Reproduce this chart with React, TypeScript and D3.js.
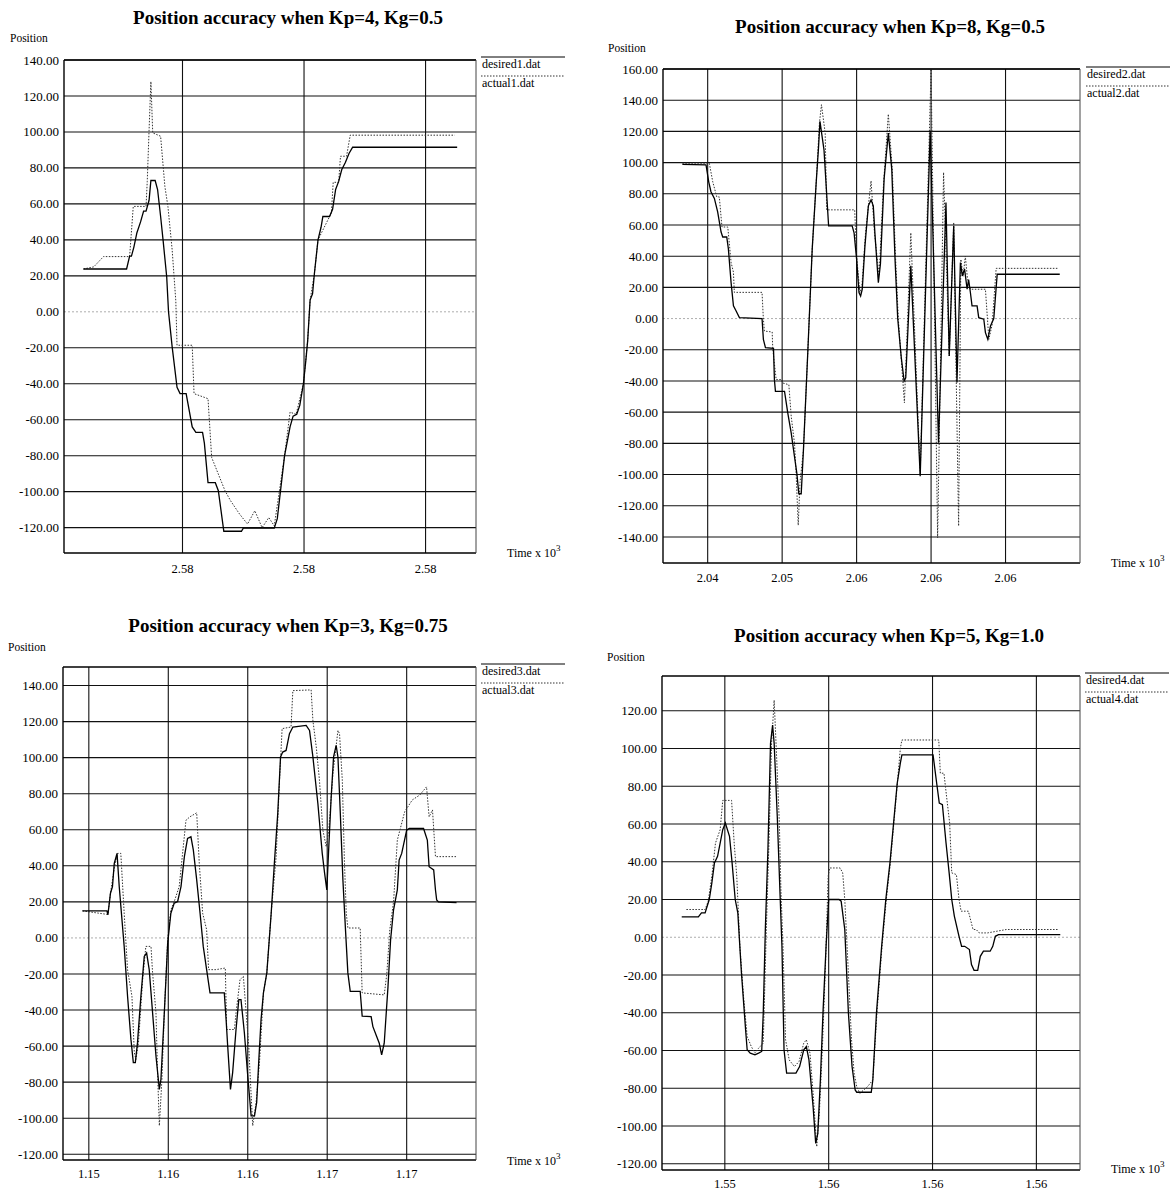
import * as d3 from "d3";

type Pt = [number, number];

// time (s), position
const desired1: Pt[] = [
  [2576.37, 23.8], [2577.08, 23.8], [2577.13, 31], [2577.16, 31], [2577.2, 36], [2577.25, 44], [2577.31, 50],
  [2577.36, 56], [2577.4, 56], [2577.45, 62], [2577.48, 73], [2577.55, 73], [2577.59, 68], [2577.64, 53],
  [2577.68, 40], [2577.74, 19.5], [2577.77, 0], [2577.83, -19.5], [2577.91, -42], [2577.96, -45.5],
  [2578.06, -45.5], [2578.09, -51], [2578.16, -64], [2578.22, -67], [2578.33, -67], [2578.36, -73],
  [2578.42, -95], [2578.54, -95], [2578.59, -99.5], [2578.68, -122], [2578.97, -122], [2579.0, -120.3],
  [2579.51, -120.3], [2579.56, -115], [2579.68, -80], [2579.77, -64], [2579.82, -58], [2579.88, -57],
  [2579.93, -52], [2579.99, -40], [2580.03, -27], [2580.06, -16], [2580.1, 6.5], [2580.14, 10], [2580.17, 21],
  [2580.23, 40], [2580.28, 47], [2580.31, 53], [2580.42, 53], [2580.47, 57], [2580.52, 68], [2580.57, 72.5],
  [2580.62, 79], [2580.68, 83], [2580.74, 88], [2580.8, 91.5], [2582.52, 91.5],
];
const actual1: Pt[] = [
  [2576.37, 23.8], [2576.54, 25], [2576.7, 30.7], [2577.13, 30.7], [2577.19, 58.6], [2577.4, 58.6],
  [2577.42, 72.5], [2577.45, 101], [2577.48, 128], [2577.51, 99.5], [2577.64, 97.6], [2577.71, 69.7],
  [2577.76, 58.6], [2577.83, 34.4], [2577.89, 6], [2577.91, -18.6], [2578.16, -18.6], [2578.19, -45.5],
  [2578.42, -48.3], [2578.48, -81], [2578.7, -99.5], [2578.79, -105], [2578.94, -112.5], [2579.07, -118],
  [2579.19, -110.6], [2579.31, -120], [2579.42, -114.4], [2579.51, -119], [2579.68, -80], [2579.77, -55.8],
  [2579.87, -57], [2579.99, -40], [2580.06, -16], [2580.1, 6.5], [2580.17, 21], [2580.23, 40], [2580.45, 55],
  [2580.48, 72], [2580.57, 72], [2580.6, 86.5], [2580.7, 86.5], [2580.76, 98.2], [2582.48, 98.2],
];

const desired2: Pt[] = [
  [2043.3, 98.9], [2044.89, 98.5], [2045.07, 87.7], [2045.22, 81.3], [2045.45, 77], [2045.67, 68.4],
  [2045.9, 55.5], [2046.01, 52.3], [2046.28, 52.3], [2046.39, 44.7], [2046.57, 23.2], [2046.73, 8.2],
  [2046.91, 4.9], [2047.13, 0.6], [2048.65, 0], [2048.74, -13.3], [2048.88, -18.7], [2049.42, -19.1],
  [2049.48, -39.1], [2049.55, -46.7], [2050.16, -46.7], [2050.38, -60.6], [2050.61, -73.5], [2050.83, -88.6],
  [2050.99, -99.4], [2051.12, -112.3], [2051.28, -112.3], [2051.43, -84.3], [2051.73, -19.8], [2052.02, 44.7],
  [2052.29, 87.7], [2052.44, 109.2], [2052.54, 126.4], [2052.81, 108.2], [2053.12, 59.4], [2054.7, 59.4],
  [2054.83, 55], [2055.0, 38], [2055.16, 16.7], [2055.27, 14.5], [2055.38, 18.8], [2055.56, 46.6],
  [2055.79, 72.3], [2055.97, 76.1], [2056.12, 72.3], [2056.24, 53], [2056.46, 23], [2056.6, 35], [2056.85, 90],
  [2057.13, 118.9], [2057.36, 95.8], [2057.58, 38], [2057.76, 0], [2058.0, -25], [2058.19, -40], [2058.3, -38],
  [2058.64, 33.8], [2059.27, -101], [2059.94, 120.4], [2060.5, -79.6], [2061.0, 74.4], [2061.22, -24],
  [2061.52, 59.5], [2061.74, -41], [2061.97, 35.9], [2062.1, 27.4], [2062.25, 31.7], [2062.42, 18.8],
  [2062.52, 25], [2062.64, 16.7], [2062.75, 8.1], [2063.09, 8.1], [2063.2, 0.6], [2063.54, -0.4],
  [2063.65, -9], [2063.81, -13.3], [2063.99, -4.7], [2064.21, 0], [2064.44, 28.4], [2068.64, 28.4],
];
const actual2: Pt[] = [
  [2043.3, 99.6], [2045.11, 99.6], [2045.34, 87.7], [2045.61, 78], [2045.78, 78], [2045.96, 58.7],
  [2046.35, 58.7], [2046.57, 36.1], [2046.73, 29.7], [2046.79, 16.8], [2048.65, 16.8], [2048.74, -0.4],
  [2048.81, -8], [2049.33, -8.6], [2049.37, -19.4], [2049.6, -39.1], [2049.93, -39.1], [2050.04, -41.3],
  [2050.45, -42.4], [2050.61, -62.8], [2050.83, -80], [2050.94, -99.4], [2051.08, -132.5], [2051.2, -105],
  [2051.43, -84.3], [2051.73, -19.8], [2052.02, 44.7], [2052.29, 87.7], [2052.5, 125], [2052.64, 137.1],
  [2052.89, 119], [2052.99, 69.7], [2054.87, 69.7], [2055.0, 40], [2055.22, 16.7], [2055.35, 20],
  [2055.6, 55], [2055.97, 88.3], [2056.2, 55], [2056.51, 27.4], [2056.8, 85], [2057.13, 131.1], [2057.4, 95],
  [2057.62, 38], [2057.8, 0], [2058.21, -54], [2058.64, 55], [2059.27, -100], [2060.0, 160], [2060.44, -140.6],
  [2060.84, 93.7], [2061.22, -24], [2061.52, 61.6], [2061.85, -133], [2062.0, 38], [2062.15, 27],
  [2062.3, 40], [2062.45, 25], [2062.64, 18.8], [2063.65, 18.8], [2063.88, -13.3], [2064.1, -4],
  [2064.37, 32.2], [2068.52, 32.2],
];

const desired3: Pt[] = [
  [1153.68, 15], [1154.91, 15], [1154.96, 12.8], [1155.09, 24.8], [1155.19, 28.4], [1155.28, 41.3],
  [1155.42, 46.9], [1155.53, 28.5], [1155.78, -4.7], [1155.95, -32.4], [1156.12, -56.3], [1156.24, -69.2],
  [1156.34, -69.2], [1156.45, -58.1], [1156.62, -32.4], [1156.79, -10.3], [1156.91, -8.4], [1157.04, -17.6],
  [1157.21, -41.6], [1157.38, -65.5], [1157.55, -84], [1157.63, -78.4], [1157.8, -41.6], [1157.97, -2.8],
  [1158.13, 13.7], [1158.3, 19.3], [1158.47, 20.2], [1158.64, 28.5], [1158.81, 45.1], [1158.97, 55.2],
  [1159.14, 56.1], [1159.26, 48.8], [1159.43, 32.2], [1159.6, 13.7], [1159.76, -4.7], [1159.93, -17.6],
  [1160.1, -30.5], [1160.82, -30.5], [1160.91, -45.3], [1160.99, -60], [1161.13, -84], [1161.24, -74.7],
  [1161.41, -50.8], [1161.55, -34.2], [1161.66, -34.2], [1161.83, -52.6], [1162.0, -76.6], [1162.17, -98.7],
  [1162.34, -98.7], [1162.45, -91.3], [1162.55, -69.2], [1162.67, -45.3], [1162.79, -30.5], [1162.96, -19.4],
  [1163.18, 13.7], [1163.34, 41.4], [1163.51, 69], [1163.65, 100.4], [1163.76, 103.1], [1163.93, 104],
  [1164.1, 113.3], [1164.27, 117], [1164.94, 117.9], [1165.11, 115.1], [1165.28, 100.4], [1165.53, 74.6],
  [1165.75, 46.9], [1165.87, 35.8], [1165.98, 26.6], [1166.08, 50.6], [1166.2, 78.2], [1166.32, 100.4],
  [1166.45, 106.8], [1166.54, 100.4], [1166.66, 69], [1166.79, 32.2], [1166.92, 4.6], [1167.04, -19.4],
  [1167.16, -29.6], [1167.66, -29.6], [1167.76, -43.4], [1168.21, -43.6], [1168.3, -49.2], [1168.49, -54.7],
  [1168.62, -58.4], [1168.74, -64.9], [1168.87, -58.4], [1169.06, -27], [1169.19, -1.1], [1169.34, 15.6],
  [1169.53, 26.7], [1169.62, 43.2], [1169.75, 46.9], [1170.0, 59.8], [1170.13, 60.7], [1170.85, 60.7],
  [1171.04, 54.3], [1171.13, 39.5], [1171.36, 37.7], [1171.45, 26.6], [1171.51, 21.1], [1171.6, 20],
  [1172.51, 19.6],
];
const actual3: Pt[] = [
  [1153.68, 15], [1154.96, 13], [1155.09, 24.8], [1155.3, 40], [1155.45, 46.9], [1155.61, 46.9],
  [1155.78, 13.7], [1155.95, -17.6], [1156.17, -32.4], [1156.29, -63.7], [1156.37, -67.4], [1156.5, -58.1],
  [1156.71, -23.2], [1156.87, -4.7], [1157.13, -4.7], [1157.21, -19.4], [1157.38, -41.6], [1157.46, -74.7],
  [1157.55, -104.2], [1157.68, -78.4], [1157.8, -41.6], [1157.97, -0.9], [1158.13, 15.6], [1158.3, 20.2],
  [1158.55, 28.5], [1158.72, 46.9], [1158.89, 65.3], [1159.09, 67.2], [1159.43, 69.4], [1159.56, 41.4],
  [1159.73, 13.7], [1159.93, 4.6], [1160.03, -17.6], [1160.4, -17.6], [1160.87, -16.7], [1160.94, -50.8],
  [1161.33, -50.8], [1161.41, -41.6], [1161.61, -23.2], [1161.78, -21.3], [1161.92, -41.6], [1162.05, -60],
  [1162.13, -78.4], [1162.25, -104.2], [1162.42, -91.3], [1162.59, -69.2], [1162.79, -30.5], [1162.96, -19.4],
  [1163.18, 13.7], [1163.43, 45.1], [1163.6, 87.5], [1163.73, 116.1], [1164.18, 117], [1164.27, 137.2],
  [1165.19, 137.6], [1165.28, 120.6], [1165.45, 105.9], [1165.61, 87.5], [1165.78, 59.9], [1165.95, 50.6],
  [1166.08, 59.9], [1166.29, 91.3], [1166.54, 115.1], [1166.62, 113.3], [1166.76, 87.5], [1166.87, 41.4],
  [1166.96, 13.7], [1167.04, 5.5], [1167.66, 5.5], [1167.76, -30.5], [1168.87, -31.6], [1169.0, -20],
  [1169.15, 4.5], [1169.34, 20], [1169.53, 54.3], [1169.9, 70], [1170.28, 76.5], [1170.66, 79.3],
  [1171.0, 83.8], [1171.13, 67.2], [1171.3, 71], [1171.45, 45.1], [1172.51, 45.1],
];

const desired4: Pt[] = [
  [1553.17, 10.8], [1553.49, 10.8], [1553.55, 12.9], [1553.62, 12.9], [1553.7, 20], [1553.75, 28.8],
  [1553.8, 39.4], [1553.86, 42.9], [1553.91, 49.9], [1553.96, 57], [1554.01, 60.5], [1554.09, 53.5],
  [1554.14, 39.4], [1554.2, 20], [1554.25, 12.9], [1554.32, -18.9], [1554.4, -49], [1554.43, -59.6],
  [1554.49, -61.4], [1554.58, -62.3], [1554.65, -61.4], [1554.71, -60.5], [1554.74, -40.2], [1554.78, 4.1],
  [1554.83, 46.4], [1554.88, 102.7], [1554.92, 112.4], [1554.95, 102.7], [1555.01, 64], [1555.06, 25.3],
  [1555.1, -4.8], [1555.14, -59.6], [1555.19, -72], [1555.37, -72], [1555.44, -68.5], [1555.52, -59.6],
  [1555.57, -57.9], [1555.62, -65], [1555.7, -89.7], [1555.75, -109.2], [1555.79, -103.9], [1555.84, -75.6],
  [1555.89, -40.2], [1555.95, -4.8], [1556.0, 20], [1556.2, 20], [1556.24, 19.1], [1556.31, 4.1],
  [1556.38, -40.2], [1556.45, -68.5], [1556.51, -80.9], [1556.54, -82.1], [1556.82, -82.1], [1556.85, -75.6],
  [1556.92, -40.2], [1557.02, -4.8], [1557.1, 20], [1557.18, 39.4], [1557.25, 60.5], [1557.32, 81.6],
  [1557.38, 92.2], [1557.41, 96.6], [1558.01, 96.6], [1558.08, 81.6], [1558.13, 71.1], [1558.19, 70.2],
  [1558.26, 49.9], [1558.32, 34.1], [1558.37, 20], [1558.42, 11.2], [1558.51, 0.5], [1558.56, -4.8],
  [1558.62, -4.8], [1558.71, -6.5], [1558.75, -14.5], [1558.8, -17.5], [1558.87, -17.5], [1558.92, -10.1],
  [1558.98, -7.4], [1559.11, -7.4], [1559.16, -4.8], [1559.21, 0.5], [1559.27, 1.4], [1560.46, 1.4],
];
const actual4: Pt[] = [
  [1553.26, 14.7], [1553.62, 14.7], [1553.68, 19.1], [1553.75, 32.3], [1553.82, 49.9], [1553.91, 57],
  [1553.96, 72.5], [1554.13, 72.5], [1554.18, 49.9], [1554.23, 32.3], [1554.29, -4.8], [1554.36, -31.3],
  [1554.43, -52.6], [1554.51, -57.9], [1554.58, -61.4], [1554.65, -58.8], [1554.74, -56.1], [1554.8, 5],
  [1554.85, 49.9], [1554.9, 102.7], [1554.95, 125.6], [1555.0, 93.9], [1555.05, 60.5], [1555.08, 25.3],
  [1555.12, -4.8], [1555.17, -54.3], [1555.24, -65], [1555.34, -68.5], [1555.43, -65.8], [1555.52, -56.1],
  [1555.57, -54.3], [1555.64, -61.4], [1555.7, -82.7], [1555.77, -111], [1555.82, -93.3], [1555.88, -57.9],
  [1555.94, -13.6], [1555.99, 32.3], [1556.02, 36.7], [1556.22, 36.7], [1556.27, 34.1], [1556.31, 20],
  [1556.37, -13.6], [1556.44, -54.3], [1556.49, -72], [1556.54, -79.1], [1556.6, -82.7], [1556.75, -79.1],
  [1556.85, -75.6], [1556.93, -40], [1557.03, -4], [1557.11, 20], [1557.19, 40], [1557.26, 62], [1557.33, 84],
  [1557.38, 100], [1557.41, 104.5], [1558.12, 104.5], [1558.15, 86.9], [1558.22, 86.9], [1558.27, 74.6],
  [1558.33, 60.5], [1558.37, 34.1], [1558.46, 33.2], [1558.51, 20], [1558.55, 13.8], [1558.69, 13.8],
  [1558.78, 4.1], [1558.84, 4.1], [1558.9, 2.3], [1559.06, 2.3], [1559.42, 4.1], [1560.43, 4.1],
];

// axis ticks
const xTicks1 = [2578, 2580, 2582];
const xLabels1 = ["2.58", "2.58", "2.58"];
const xTicks2 = [2045, 2050, 2055, 2060, 2065];
const xLabels2 = ["2.04", "2.05", "2.06", "2.06", "2.06"];
const xTicks3 = [1154, 1158, 1162, 1166, 1170];
const xLabels3 = ["1.15", "1.16", "1.16", "1.17", "1.17"];
const xTicks4 = [1554, 1556, 1558, 1560];
const xLabels4 = ["1.55", "1.56", "1.56", "1.56"];

const yTicks1 = [140, 120, 100, 80, 60, 40, 20, 0, -20, -40, -60, -80, -100, -120];
const yTicks2 = [160, 140, 120, 100, 80, 60, 40, 20, 0, -20, -40, -60, -80, -100, -120, -140];
const yTicks3 = [140, 120, 100, 80, 60, 40, 20, 0, -20, -40, -60, -80, -100, -120];
const yTicks4 = [120, 100, 80, 60, 40, 20, 0, -20, -40, -60, -80, -100, -120];

const titles = [
  "Position accuracy when Kp=4, Kg=0.5",
  "Position accuracy when Kp=8, Kg=0.5",
  "Position accuracy when Kp=3, Kg=0.75",
  "Position accuracy when Kp=5, Kg=1.0",
];
const legendNames = [
  ["desired1.dat", "actual1.dat"],
  ["desired2.dat", "actual2.dat"],
  ["desired3.dat", "actual3.dat"],
  ["desired4.dat", "actual4.dat"],
];

const FONT = "'Liberation Serif', 'Times New Roman', serif";

const panels = [
  {
    id: 1, desired: desired1, actual: actual1, xTicks: xTicks1, xLabels: xLabels1, yTicks: yTicks1,
    xDomain: [2576.05, 2582.83], yDomain: [-134.1, 140],
    left: 64, right: 476, top: 60, bottom: 553, titleX: 288, titleY: 24, posX: 10, posY: 42,
    legX: 481, legY: 57, xLabY: 573, timeY: 557,
  },
  {
    id: 2, desired: desired2, actual: actual2, xTicks: xTicks2, xLabels: xLabels2, yTicks: yTicks2,
    xDomain: [2042, 2070], yDomain: [-156.7, 160],
    left: 663, right: 1080, top: 69, bottom: 563, titleX: 890, titleY: 33, posX: 608, posY: 52,
    legX: 1086, legY: 67, xLabY: 582, timeY: 567,
  },
  {
    id: 3, desired: desired3, actual: actual3, xTicks: xTicks3, xLabels: xLabels3, yTicks: yTicks3,
    xDomain: [1152.7, 1173.49], yDomain: [-123.2, 150.3],
    left: 63, right: 476, top: 667, bottom: 1160, titleX: 288, titleY: 632, posX: 8, posY: 651,
    legX: 481, legY: 664, xLabY: 1178, timeY: 1165,
  },
  {
    id: 4, desired: desired4, actual: actual4, xTicks: xTicks4, xLabels: xLabels4, yTicks: yTicks4,
    xDomain: [1552.79, 1560.84], yDomain: [-123.3, 138.4],
    left: 662, right: 1080, top: 676, bottom: 1170, titleX: 889, titleY: 642, posX: 607, posY: 661,
    legX: 1085, legY: 673, xLabY: 1188, timeY: 1173,
  },
];

function Panel({ p, idx }: { p: any; idx: number }) {
  const x = d3.scaleLinear().domain(p.xDomain).range([p.left, p.right]);
  const y = d3.scaleLinear().domain(p.yDomain).range([p.bottom, p.top]);
  const line = d3.line<Pt>().x((d) => x(d[0])).y((d) => y(d[1]));
  const clip = `clip${p.id}`;
  const [nDes, nAct] = legendNames[idx];

  return (
    <g fontFamily={FONT}>
      <defs>
        <clipPath id={clip}>
          <rect x={p.left} y={p.top - 1} width={p.right - p.left} height={p.bottom - p.top + 2} />
        </clipPath>
      </defs>
      <text x={p.titleX} y={p.titleY} textAnchor="middle" fontWeight="bold" fontSize={19}>
        {titles[idx]}
      </text>
      <text x={p.posX} y={p.posY} fontSize={11.5}>Position</text>

      {/* horizontal grid + y labels */}
      {p.yTicks.map((t: number) => (
        <g key={`y${t}`}>
          <line
            x1={p.left} x2={p.right} y1={y(t)} y2={y(t)}
            stroke={t === 0 ? "#999" : "#111"}
            strokeWidth={t === 0 ? 0.8 : 1.1}
            strokeDasharray={t === 0 ? "2 2" : undefined}
          />
          <text x={p.left - 5} y={y(t)} dy="0.35em" textAnchor="end" fontSize={13}>
            {t.toFixed(2)}
          </text>
        </g>
      ))}

      {/* vertical grid + x labels */}
      {p.xTicks.map((t: number, i: number) => (
        <g key={`x${t}`}>
          <line x1={x(t)} x2={x(t)} y1={p.top} y2={p.bottom} stroke="#111" strokeWidth={1.1} />
          <text x={x(t)} y={p.xLabY} textAnchor="middle" fontSize={12.5}>{p.xLabels[i]}</text>
        </g>
      ))}

      {/* frame */}
      <line x1={p.left} x2={p.right} y1={p.top} y2={p.top} stroke="#000" strokeWidth={1.6} />
      <line x1={p.left} x2={p.right} y1={p.bottom} y2={p.bottom} stroke="#000" strokeWidth={1.4} />
      <line x1={p.left} x2={p.left} y1={p.top} y2={p.bottom} stroke="#000" strokeWidth={1.4} />
      <line x1={p.right} x2={p.right} y1={p.top} y2={p.bottom} stroke="#444" strokeWidth={1} />

      <g clipPath={`url(#${clip})`}>
        <path d={line(p.actual) || ""} fill="none" stroke="#333" strokeWidth={1} strokeDasharray="1.5 1.5" />
        <path d={line(p.desired) || ""} fill="none" stroke="#000" strokeWidth={1.3} />
      </g>

      {/* legend */}
      <line x1={p.legX} x2={p.legX + 84} y1={p.legY} y2={p.legY} stroke="#000" strokeWidth={1} />
      <text x={p.legX + 1} y={p.legY + 11} fontSize={12}>{nDes}</text>
      <line x1={p.legX} x2={p.legX + 84} y1={p.legY + 19} y2={p.legY + 19} stroke="#333" strokeWidth={1} strokeDasharray="1.5 1.5" />
      <text x={p.legX + 1} y={p.legY + 30} fontSize={12}>{nAct}</text>

      <text x={p.right + 31} y={p.timeY} fontSize={12}>
        Time x 10<tspan dy={-6} fontSize={9}>3</tspan>
      </text>
    </g>
  );
}

export default function App() {
  return (
    <svg
      width={1173}
      height={1193}
      style={{ position: "absolute", left: 0, top: 0, background: "#fff" }}
    >
      {panels.map((p, i) => (
        <Panel key={p.id} p={p} idx={i} />
      ))}
    </svg>
  );
}
